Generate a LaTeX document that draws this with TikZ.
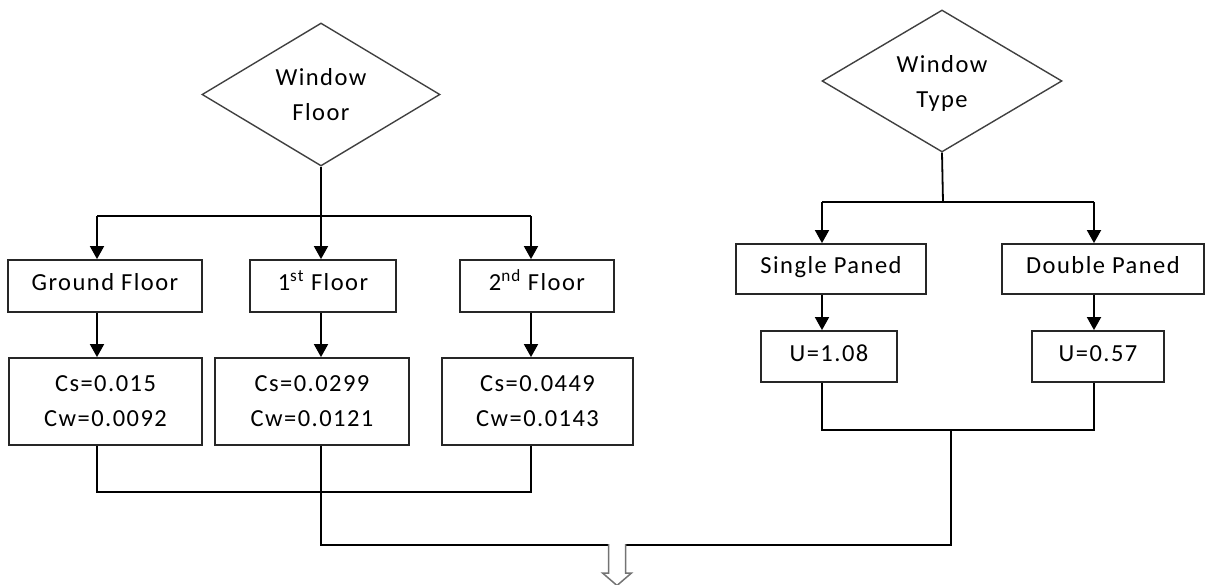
\documentclass[tikz,border=0pt]{standalone}
\usepackage{fontspec}
\setmainfont{Carlito}[LetterSpace=6]
\usetikzlibrary{shapes.geometric,arrows.meta}
\begin{document}
\begin{tikzpicture}[x=1pt,y=-1pt,
  every node/.style={font=\fontsize{24.5}{35}\selectfont, text=black},
  choice/.style={diamond, draw=black!75, line width=1.4pt, inner sep=0pt,
    aspect=1.66, align=center},
  box/.style={rectangle, draw=black!85, line width=1.8pt, inner sep=0pt, align=center},
  onebox/.style={box, text height=16pt, text depth=6pt},
  link/.style={draw=black, line width=1.8pt},
  arr/.style={link, -{Triangle[width=14pt,length=13pt]}},
  hollow/.style={draw=black!55, line width=1.5pt, fill=white, line join=miter}
]
\useasboundingbox (0,0) rectangle (1208,585);

% decision diamonds
\node[choice, minimum width=238pt, minimum height=143pt] (floor) at (321,94.5) {Window\\\smash{Floor}};
\node[choice, minimum width=240pt, minimum height=142pt] (type) at (942,81) {Window\\\smash{Type}};

% floor branch
\node[onebox, minimum width=194pt, minimum height=52pt] (gf) at (105,286) {Ground Floor};
\node[onebox, minimum width=146pt, minimum height=52pt] (f1) at (323,286) {1\textsuperscript{st} Floor};
\node[onebox, minimum width=154pt, minimum height=52pt] (f2) at (537,286) {2\textsuperscript{nd} Floor};
\node[box, minimum width=193pt, minimum height=87pt] (c1) at (105.5,401.5) {Cs=0.015\\Cw=0.0092};
\node[box, minimum width=194pt, minimum height=87pt] (c2) at (312,401.5) {Cs=0.0299\\Cw=0.0121};
\node[box, minimum width=191pt, minimum height=87pt] (c3) at (537.5,401.5) {Cs=0.0449\\Cw=0.0143};

% type branch
\node[onebox, minimum width=190pt, minimum height=50pt] (sp) at (831,269) {Single Paned};
\node[onebox, minimum width=202pt, minimum height=50pt] (dp) at (1103,269) {Double Paned};
\node[onebox, minimum width=136pt, minimum height=51pt] (u1) at (829,356.5) {U=1.08};
\node[onebox, minimum width=132pt, minimum height=51pt] (u2) at (1098,356.5) {U=0.57};

% junction points
\coordinate (fj) at (321,216);
\coordinate (fl) at (97,216);
\coordinate (fr) at (531,216);
\coordinate (tj) at (943,202);
\coordinate (tl) at (822,202);
\coordinate (tr) at (1094,202);
\coordinate (cj) at (97,492);
\coordinate (uj) at (822,430);
\coordinate (mj) at (951,430);
\coordinate (out) at (617,545);

% floor connectors
\draw[link] (floor.south) -- (fj);
\draw[link] (fl) -- (fr);
\draw[arr] (fl) -- (fl |- gf.north);
\draw[arr] (fj) -- (fj |- f1.north);
\draw[arr] (fr) -- (fr |- f2.north);
\draw[arr] (fl |- gf.south) -- (fl |- c1.north);
\draw[arr] (fj |- f1.south) -- (fj |- c2.north);
\draw[arr] (fr |- f2.south) -- (fr |- c3.north);
\draw[link] (fl |- c1.south) -- (cj) -- (cj -| fr) -- (fr |- c3.south);

% type connectors
\draw[link] (type.south) -- (tj);
\draw[link] (tl) -- (tr);
\draw[arr] (tl) -- (tl |- sp.north);
\draw[arr] (tr) -- (tr |- dp.north);
\draw[arr] (tl |- sp.south) -- (tl |- u1.north);
\draw[arr] (tr |- dp.south) -- (tr |- u2.north);
\draw[link] (tl |- u1.south) -- (uj) -- (uj -| tr) -- (tr |- u2.south);

% merge into the outlet
\draw[link] (fj |- c2.south) -- (fj |- out) -- (out -| mj) -- (mj);
\draw[hollow] (out) ++(-8.5,-1) -- ++(0,29) -- ++(-6,0) -- ++(14.5,12.5)
  -- ++(14.5,-12.5) -- ++(-6,0) -- ++(0,-29);
\end{tikzpicture}
\end{document}
